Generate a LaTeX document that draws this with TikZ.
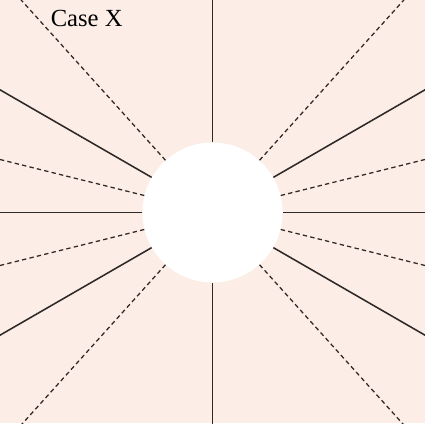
\documentclass[tikz,border=0pt]{standalone}
\usepackage{fontspec}
\setmainfont{Liberation Serif}
\usetikzlibrary{calc}
\definecolor{CXPeach}{HTML}{FCEEE6}
\definecolor{CXInk}{HTML}{2E2828}
\tikzset{
 ray/.style={draw=CXInk,line width=1.1pt},
 dashray/.style={draw=CXInk,line width=0.9pt,dash pattern=on 1.1mm off 0.8mm},
}
\begin{document}
\begin{tikzpicture}[x=0.25mm,y=0.25mm]
\fill[CXPeach] (0,0) rectangle (425,423);
\useasboundingbox (0,0) rectangle (425,423);
\node[circle,fill=white,minimum size=35mm,inner sep=0pt] (hole) at (212.5,210.5) {};
\node[font=\fontsize{17.5}{20}\selectfont,anchor=base west,inner sep=0pt] (title) at (50.5,396.5) {Case X};
\begin{scope}
\clip (0,0) rectangle (425,423);
% solid rays every 30 degrees, skipping the 60s
\foreach \a in {0,30,90,150,180,210,270,330}
 \draw[ray] (hole.\a) -- ($(hole.center)+(\a:400)$);
% dashed rays
\foreach \a in {14,48,132,166,194,228,312,346}
 \draw[dashray] (hole.\a) -- ($(hole.center)+(\a:400)$);
\end{scope}
\end{tikzpicture}
\end{document}
